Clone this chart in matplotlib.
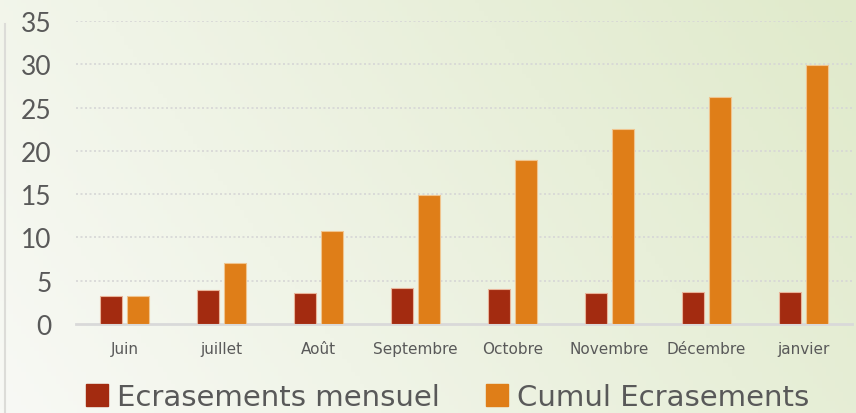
import numpy as np
import matplotlib
matplotlib.use("Agg")
import matplotlib.pyplot as plt
from matplotlib.patches import Patch

months = ["Juin", "juillet", "Août", "Septembre", "Octobre", "Novembre", "Décembre", "janvier"]
mensuel = [3.2, 3.9, 3.6, 4.2, 4.0, 3.6, 3.7, 3.7]
cumul = [3.2, 7.1, 10.7, 14.9, 18.9, 22.5, 26.2, 29.9]
series_names = ["Ecrasements mensuel", "Cumul Ecrasements"]
yticks = [0, 5, 10, 15, 20, 25, 30, 35]

plt.rcParams['font.family'] = ['Lato', 'DejaVu Sans']

fig = plt.figure(figsize=(8.56, 4.14), dpi=100)

# background gradient
bg = fig.add_axes([0, 0, 1, 1], zorder=-10)
w, h = 200, 100
xx, yy = np.meshgrid(np.linspace(0, 1, w), np.linspace(0, 1, h))
t = np.clip(0.75 * xx + 0.25 * (1 - yy), 0, 1)
c0 = np.array([248, 249, 245]) / 255
c1 = np.array([224, 234, 203]) / 255
img = c0[None, None, :] * (1 - t[..., None]) + c1[None, None, :] * t[..., None]
bg.imshow(img, aspect='auto', extent=[0, 1, 0, 1], origin='upper')
bg.axis('off')
bg.plot([0.006, 0.006], [0.0, 0.94], color='#dcdcd8', lw=1.5, transform=bg.transAxes)

ax = fig.add_axes([0.0888, 0.215, 0.906, 0.732])
ax.patch.set_alpha(0)

x = np.arange(len(months))
bw = 0.227
off = 0.139
c_red = '#A32B10'
c_or = '#DF7E18'
ax.bar(x - off, mensuel, bw, color=c_red, edgecolor='#e9b49a', linewidth=0.8, zorder=3)
ax.bar(x + off, cumul, bw, color=c_or, edgecolor='#f0c48e', linewidth=0.8, zorder=3)

ax.set_xlim(-0.5, len(months) - 0.5)
ax.set_ylim(0, 35)
ax.set_yticks(yticks)
ax.set_yticklabels([str(v) for v in yticks], fontsize=19, color='#595959')
ax.set_xticks(x)
ax.set_xticklabels(months, fontsize=11, color='#595959', family=['DejaVu Sans'])
ax.tick_params(axis='both', length=0)
ax.tick_params(axis='y', pad=17.5)
ax.tick_params(axis='x', pad=12)

for v in yticks[1:]:
    ax.axhline(v, color='#d6d6d6', lw=1.2, ls=(0, (1.2, 1.5)), zorder=1)
for s in ['top', 'right', 'left']:
    ax.spines[s].set_visible(False)
ax.spines['bottom'].set_color('#d9d9d9')
ax.spines['bottom'].set_linewidth(2)

handles = [Patch(color=c_red), Patch(color=c_or)]
fig.legend(handles, series_names, loc='center', bbox_to_anchor=(0.523, 0.038), ncol=2,
           frameon=False, prop={'family': ['DejaVu Sans'], 'size': 21}, labelcolor='#595959',
           handlelength=0.75, handleheight=0.75, handletextpad=0.3, columnspacing=1.6)

fig.savefig('out.png', dpi=100)
